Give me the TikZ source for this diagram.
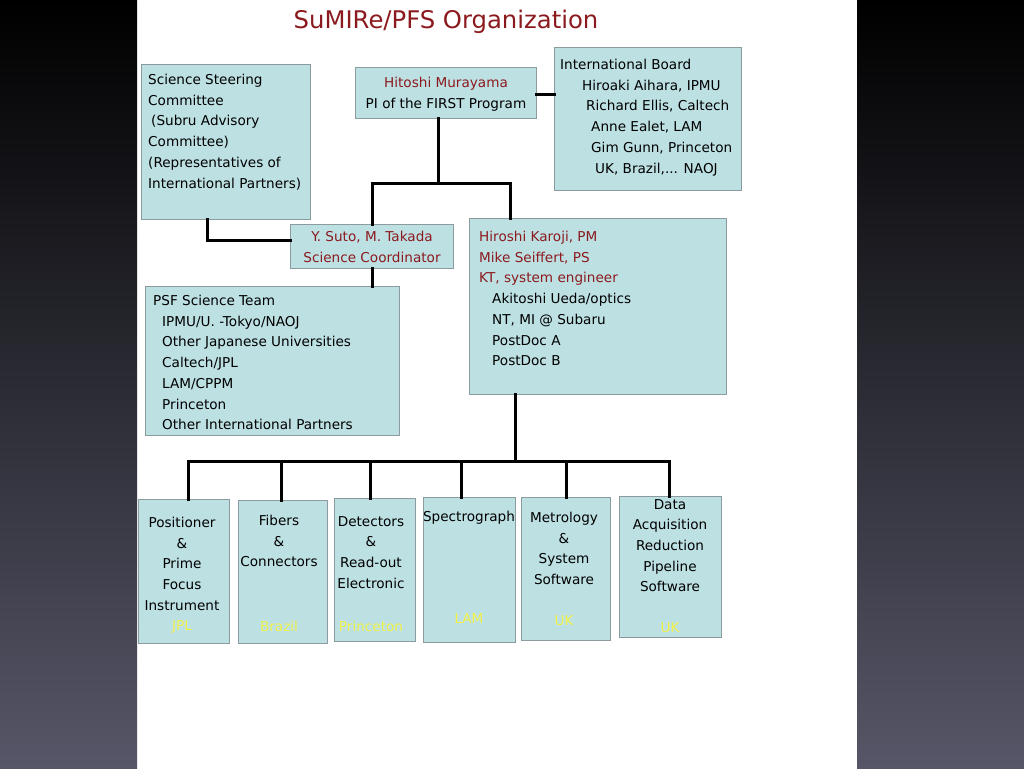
\documentclass[tikz,border=0pt]{standalone}
\usepackage{fontspec}
\setmainfont{DejaVu Sans}
\definecolor{darkred}{HTML}{8B1A1E}
\definecolor{boxfill}{HTML}{BDE0E3}
\definecolor{boxline}{HTML}{8C9C9E}
\definecolor{ylw}{HTML}{F2F24A}
\definecolor{bgmid}{HTML}{1E1E32}
\definecolor{bgbot}{HTML}{565668}
\begin{document}
\begin{tikzpicture}[x=1pt,y=-1pt,
  box/.style={draw=boxline,fill=boxfill,line width=1pt,inner sep=0pt,outer sep=0pt,anchor=north west},
  txt/.style={inner sep=0pt,anchor=north west,align=left,font=\fontsize{13.6}{20.7}\selectfont},
  ctxt/.style={inner sep=0pt,anchor=north,align=center,font=\fontsize{13.6}{20.7}\selectfont},
  ytxt/.style={inner sep=0pt,anchor=center,text=ylw,font=\fontsize{13.6}{20.7}\selectfont},
  conn/.style={line width=3pt,line join=miter,line cap=rect}]
\useasboundingbox (0,0) rectangle (1024,768);
\fill[white] (137,0) rectangle (857,768);
\shade[top color=black,middle color=bgmid,bottom color=bgbot] (0,0) rectangle (137,768);
\shade[top color=black,middle color=bgmid,bottom color=bgbot] (857,0) rectangle (1024,768);
% title
\node[inner sep=0pt,text=darkred,font=\fontsize{24.3}{28}\selectfont] (title) at (446,22) {SuMIRe/PFS Organization};
% boxes
\node[box,minimum width=169pt,minimum height=155pt] (ssc) at (141,64) {};
\node[box,minimum width=181pt,minimum height=51pt] (pi) at (355,67) {};
\node[box,minimum width=187pt,minimum height=142pt] (ib) at (554,48) {};
\node[box,minimum width=163pt,minimum height=44pt] (sc) at (290,224) {};
\node[box,minimum width=257pt,minimum height=176pt] (pm) at (469,218) {};
\node[box,minimum width=254pt,minimum height=149pt] (psf) at (145,286) {};
\node[box,minimum width=91pt,minimum height=144pt] (w1) at (138,499) {};
\node[box,minimum width=89pt,minimum height=143pt] (w2) at (238,500) {};
\node[box,minimum width=81pt,minimum height=143pt] (w3) at (334,498) {};
\node[box,minimum width=92pt,minimum height=145pt] (w4) at (423,497) {};
\node[box,minimum width=89pt,minimum height=143pt] (w5) at (521,497) {};
\node[box,minimum width=102pt,minimum height=141pt] (w6) at (619,496) {};
% texts
\node[txt] (ssc-t) at (148,74) {Science Steering\\Committee\\\hspace*{3pt}(Subru Advisory\\Committee)\\(Representatives of\\International Partners)};
\node[ctxt] (pi-t) at (446,77) {\textcolor{darkred}{Hitoshi Murayama}\\PI of the FIRST Program};
\node[txt] (ib-t) at (560,59) {International Board\\\hspace*{22pt}Hiroaki Aihara, IPMU\\\hspace*{26pt}Richard Ellis, Caltech\\\hspace*{31pt}Anne Ealet, LAM\\\hspace*{31pt}Gim Gunn, Princeton\\\hspace*{35pt}UK, Brazil,... NAOJ};
\node[ctxt,text=darkred] (sc-t) at (372,231) {Y. Suto, M. Takada\\Science Coordinator};
\node[txt] (pm-t) at (479,231) {\textcolor{darkred}{Hiroshi Karoji, PM}\\\textcolor{darkred}{Mike Seiffert, PS}\\\textcolor{darkred}{KT, system engineer}\\\hspace*{13pt}Akitoshi Ueda/optics\\\hspace*{13pt}NT, MI @ Subaru\\\hspace*{13pt}PostDoc A\\\hspace*{13pt}PostDoc B};
\node[txt] (psf-t) at (153,295) {PSF Science Team\\\hspace*{9pt}IPMU/U. -Tokyo/NAOJ\\\hspace*{9pt}Other Japanese Universities\\\hspace*{9pt}Caltech/JPL\\\hspace*{9pt}LAM/CPPM\\\hspace*{9pt}Princeton\\\hspace*{9pt}Other International Partners};
\node[ctxt] (w1-t) at (182,517) {Positioner\\\&\\Prime\\Focus\\Instrument};
\node[ctxt] (w2-t) at (279,515) {Fibers\\\&\\Connectors};
\node[ctxt] (w3-t) at (371,516) {Detectors\\\&\\Read-out\\Electronic};
\node[ctxt] (w4-t) at (469,511) {Spectrograph};
\node[ctxt] (w5-t) at (564,512) {Metrology\\\&\\System\\Software};
\node[ctxt] (w6-t) at (670,499) {Data\\Acquisition\\Reduction\\Pipeline\\Software};
\node[ytxt] (w1-y) at (182,627) {JPL};
\node[ytxt] (w2-y) at (279,626) {Brazil};
\node[ytxt] (w3-y) at (371,626) {Princeton};
\node[ytxt] (w4-y) at (469,619) {LAM};
\node[ytxt] (w5-y) at (564,621) {UK};
\node[ytxt] (w6-y) at (670,628) {UK};
% connectors
\coordinate (j1) at (438,183);
\coordinate (jl) at (372,183);
\coordinate (jr) at (510,183);
\coordinate (js) at (207,240);
\coordinate (jb) at (515,461);
\coordinate (d1) at (188,461);
\coordinate (d2) at (281,461);
\coordinate (d3) at (370,461);
\coordinate (d4) at (461,461);
\coordinate (d5) at (566,461);
\coordinate (d6) at (669,461);
\draw[conn] (pi.east |- 0,94) -- (ib.west |- 0,94);
\draw[conn] (j1 |- pi.south) -- (j1);
\draw[conn] (jl |- sc.north) -- (jl) -- (jr) -- (jr |- pm.north);
\draw[conn] (js |- ssc.south) -- (js) -- (js -| sc.west);
\draw[conn] (jl |- sc.south) -- (jl |- psf.north);
\draw[conn] (jb |- pm.south) -- (jb);
\draw[conn] (d1) -- (d6);
\draw[conn] (d1) -- (d1 |- w1.north);
\draw[conn] (d2) -- (d2 |- w2.north);
\draw[conn] (d3) -- (d3 |- w3.north);
\draw[conn] (d4) -- (d4 |- w4.north);
\draw[conn] (d5) -- (d5 |- w5.north);
\draw[conn] (d6) -- (d6 |- w6.north);
\end{tikzpicture}
\end{document}
